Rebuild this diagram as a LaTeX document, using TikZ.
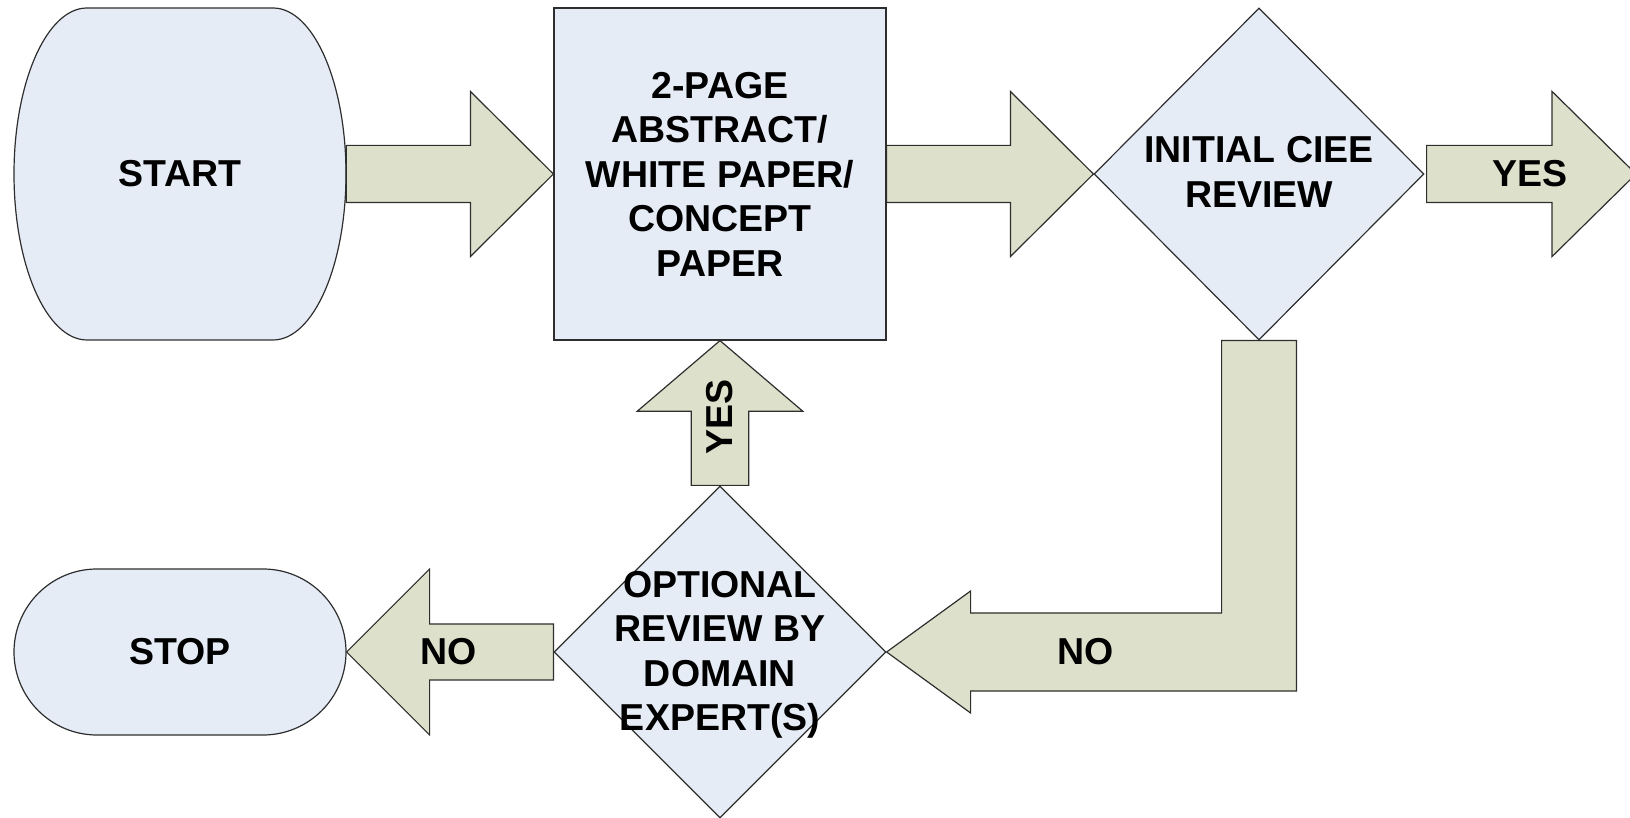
\documentclass[tikz,border=0pt]{standalone}
\usepackage{fontspec}
\setmainfont{Liberation Sans}
\usetikzlibrary{shapes.geometric,calc}
\definecolor{shapefill}{HTML}{E6ECF6}
\definecolor{arrowfill}{HTML}{DDE1CB}
\definecolor{edgecol}{HTML}{2E2E2E}
\tikzset{
  lbl/.style={font=\bfseries\fontsize{37.5}{44.5}\selectfont, align=center, inner sep=0pt, text=black},
  shapebox/.style={draw=edgecol, fill=shapefill, line width=1.2pt, inner sep=0pt},
  blk/.style={draw=edgecol, fill=arrowfill, line width=1.2pt, line join=miter},
}
\begin{document}
\begin{tikzpicture}[x=1pt,y=1pt]
\useasboundingbox (0,0) rectangle (1630,817);

% START (tall terminator)
\draw[shapebox] (87,809) -- (273,809)
  arc[start angle=90,end angle=-90,x radius=73,y radius=166]
  -- (87,477)
  arc[start angle=270,end angle=90,x radius=73,y radius=166] -- cycle;
\node[lbl, minimum width=332, minimum height=332] (start) at (180,643) {START};

% Abstract box
\node[shapebox, minimum width=332, minimum height=332] (box) at (720,643) {};
\node[lbl] (boxtxt) at (box.center) {2-PAGE\\ABSTRACT/\\WHITE PAPER/\\CONCEPT\\PAPER};

% Initial review diamond
\node[shapebox, diamond, minimum width=330, minimum height=332] (d1) at (1259,643) {};
\node[lbl] (d1txt) at ($(d1.center)+(0,2)$) {INITIAL CIEE\\REVIEW};

% Optional review diamond
\node[shapebox, diamond, minimum width=332, minimum height=332] (d2) at (720,165) {};
\node[lbl] (d2txt) at ($(d2.center)+(0,-3)$) {OPTIONAL\\REVIEW BY\\DOMAIN\\EXPERT(S)};

% STOP
\node[shapebox, rounded corners=83pt, minimum width=332, minimum height=166, lbl] (stop) at (180,165) {STOP};

% free end of the YES arrow
\coordinate (yestip) at (1636,643);

% Arrow START -> box
\draw[blk] ($(start.east)+(0,28.6)$) -- ($(box.west)+(-83,28.6)$) -- ($(box.west)+(-83,82.6)$)
  -- (box.west) -- ($(box.west)+(-83,-82.6)$) -- ($(box.west)+(-83,-28.6)$)
  -- ($(start.east)+(0,-28.6)$) -- cycle;

% Arrow box -> d1
\draw[blk] ($(box.east)+(0,28.6)$) -- ($(d1.west)+(-83,28.6)$) -- ($(d1.west)+(-83,82.6)$)
  -- (d1.west) -- ($(d1.west)+(-83,-82.6)$) -- ($(d1.west)+(-83,-28.6)$)
  -- ($(box.east)+(0,-28.6)$) -- cycle;

% YES arrow out of d1
\draw[blk] ($(d1.east)+(2,28.6)$) -- ($(yestip)+(-84,28.6)$) -- ($(yestip)+(-84,82.6)$)
  -- (yestip) -- ($(yestip)+(-84,-82.6)$) -- ($(yestip)+(-84,-28.6)$)
  -- ($(d1.east)+(2,-28.6)$) -- cycle;
\node[lbl] (yes1) at (1530,643) {YES};

% NO L-shaped arrow d1 -> d2
\draw[blk] ($(d1.south)+(-37.4,0)$) -- ($(d1.south)+(37.4,0)$)
  |- ($(d2.east)+(84,-39)$) -- ($(d2.east)+(84,-61)$) -- (d2.east)
  -- ($(d2.east)+(84,61)$) -- ($(d2.east)+(84,39)$) -| cycle;
\node[lbl] (no1) at (1086,165) {NO};

% YES up arrow d2 -> box
\draw[blk] ($(d2.north)+(-28.7,0)$) -- ($(box.south)+(-28.7,-70.6)$) -- ($(box.south)+(-82.7,-70.6)$)
  -- (box.south) -- ($(box.south)+(82.7,-70.6)$) -- ($(box.south)+(28.7,-70.6)$)
  -- ($(d2.north)+(28.7,0)$) -- cycle;
\node[lbl, rotate=90] (yes2) at (720,400) {YES};

% NO arrow d2 -> STOP
\draw[blk] ($(d2.west)+(0,28)$) -- ($(stop.east)+(83,28)$) -- ($(stop.east)+(83,83)$)
  -- (stop.east) -- ($(stop.east)+(83,-83)$) -- ($(stop.east)+(83,-28)$)
  -- ($(d2.west)+(0,-28)$) -- cycle;
\node[lbl] (no2) at (449,165) {NO};

\end{tikzpicture}
\end{document}
